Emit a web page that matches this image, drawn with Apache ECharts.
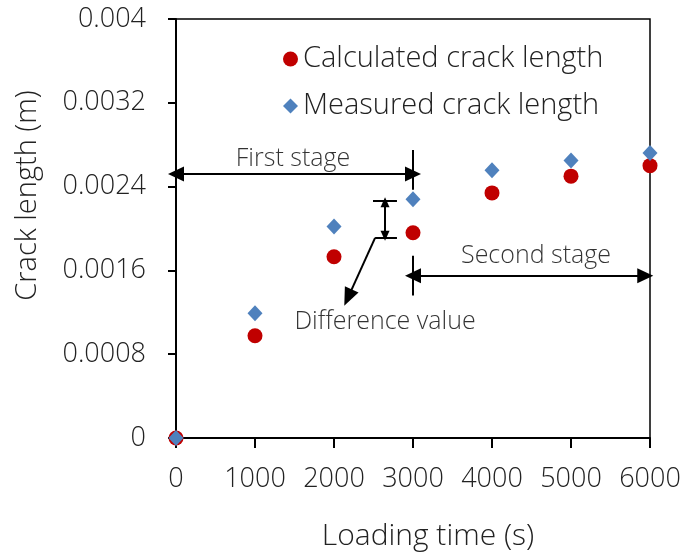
<!DOCTYPE html>
<html><head><meta charset="utf-8">
<script src="https://cdn.jsdelivr.net/npm/echarts@6/dist/echarts.min.js"></script>
<style>html,body{margin:0;padding:0;background:#fff}#c{width:683px;height:557px}</style>
</head><body><div id="c"></div>
<script>
const loadingTime = [0, 1000, 2000, 3000, 4000, 5000, 6000];
const calculated = [0, 0.000976, 0.00173, 0.00196, 0.00234, 0.0025, 0.0026];
const measured = [0, 0.00119, 0.00202, 0.00228, 0.002555, 0.00265, 0.00272];
const yTicks = [0, 0.0008, 0.0016, 0.0024, 0.0032, 0.004];
const xTicks = [0, 1000, 2000, 3000, 4000, 5000, 6000];

const FONT = '"Open Sans", "Noto Sans", sans-serif';
const TXT = '#222';
const chart = echarts.init(document.getElementById('c'), null, {renderer: 'canvas'});

const lineStyle = {color: '#000', width: 2, type: 'solid'};
const arrowEnd = (x, y) => ({coord: [x, y], symbol: 'triangle', symbolSize: [15, 16]});
const plainEnd = (x, y) => ({coord: [x, y], symbol: 'none'});

const annotations = [
  [arrowEnd(0, 0.00252), arrowEnd(3000, 0.00252)],
  [plainEnd(3000, 0.00275), plainEnd(3000, 0.00237)],
  [arrowEnd(3000, 0.00155), arrowEnd(5940, 0.00155)],
  [plainEnd(3000, 0.00174), plainEnd(3000, 0.00136)],
  [plainEnd(2494, 0.002268), plainEnd(2797, 0.002268)],
  [plainEnd(2520, 0.00191), plainEnd(2797, 0.00191)],
  [{coord: [2646, 0.00225], symbol: 'triangle', symbolSize: [9, 10]}, {coord: [2646, 0.00193], symbol: 'triangle', symbolSize: [9, 10]}],
  [plainEnd(2520, 0.00191), {coord: [2177, 0.00134], symbol: 'triangle', symbolSize: [15, 18]}]
];

const textLabels = [
  {value: [1481, 0.00266], name: 'First stage'},
  {value: [4557, 0.001735], name: 'Second stage'},
  {value: [2646, 0.00111], name: 'Difference value'}
];

chart.setOption({
  animation: false,
  backgroundColor: '#fff',
  grid: {left: 176, right: 33, top: 19, bottom: 119, show: true, borderColor: '#000', borderWidth: 1.5,
    containLabel: false, outerBoundsMode: 'none'},
  legend: {
    data: ['Calculated crack length', 'Measured crack length'],
    orient: 'vertical', left: 278, top: 36, itemGap: 11,
    itemWidth: 15, itemHeight: 15,
    textStyle: {fontFamily: FONT, fontWeight: 300, fontSize: 29, color: TXT, lineHeight: 36}
  },
  xAxis: {
    type: 'value', min: 0, max: 6000, interval: 1000,
    name: 'Loading time (s)', nameLocation: 'middle', nameGap: 83,
    nameTextStyle: {fontFamily: FONT, fontWeight: 300, fontSize: 30, color: TXT, padding: [0, 0, 0, 30]},
    axisLine: {show: true, lineStyle: {color: '#000', width: 2}},
    axisTick: {show: true, inside: false, length: 10, lineStyle: {color: '#000', width: 2}},
    axisLabel: {fontFamily: FONT, fontWeight: 300, fontSize: 27, color: TXT, margin: 28,
      formatter: v => xTicks.includes(v) ? String(v) : ''},
    splitLine: {show: false}
  },
  yAxis: {
    type: 'value', min: 0, max: 0.004, interval: 0.0008,
    name: 'Crack length (m)', nameLocation: 'middle', nameGap: 134,
    nameTextStyle: {fontFamily: FONT, fontWeight: 300, fontSize: 29, color: TXT, padding: [0, 0, 0, 66]},
    axisLine: {show: true, lineStyle: {color: '#000', width: 2}},
    axisTick: {show: true, inside: false, length: 8, lineStyle: {color: '#000', width: 2}},
    axisLabel: {fontFamily: FONT, fontWeight: 300, fontSize: 27, color: TXT, margin: 30,
      formatter: v => { const t = yTicks.find(k => Math.abs(k - v) < 1e-9); return t === undefined ? '' : String(t); }},
    splitLine: {show: false}
  },
  series: [
    {
      name: 'Calculated crack length', type: 'scatter', symbol: 'circle', symbolSize: 15,
      itemStyle: {color: '#C00000', opacity: 1},
      data: loadingTime.map((t, i) => [t, calculated[i]]),
      z: 3
    },
    {
      name: 'Measured crack length', type: 'scatter', symbol: 'diamond', symbolSize: [15, 16],
      itemStyle: {color: '#4F81BD', opacity: 1},
      data: loadingTime.map((t, i) => [t, measured[i]]),
      z: 4
    },
    {
      name: 'annotations', type: 'scatter', symbolSize: 0, silent: true,
      data: textLabels,
      label: {show: true, position: 'inside', formatter: p => p.name,
        fontFamily: FONT, fontWeight: 300, fontSize: 25, color: '#000'},
      markLine: {
        silent: true, animation: false, precision: 6,
        lineStyle: lineStyle,
        label: {show: false},
        data: annotations
      },
      z: 5
    }
  ]
});
</script>
</body></html>
